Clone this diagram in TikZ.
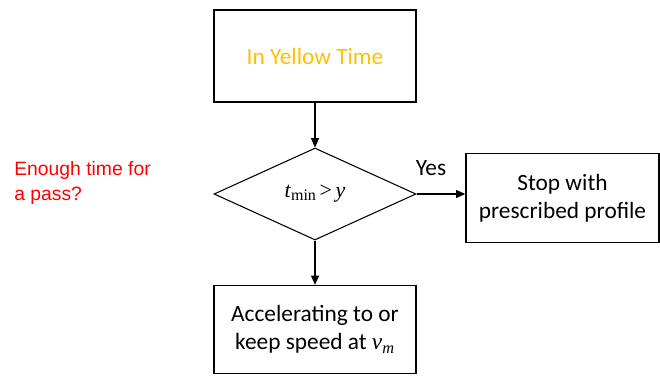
\documentclass[tikz,border=0pt]{standalone}
\usepackage{fontspec}
\setmainfont{Carlito}
\newfontfamily\arialfont{Liberation Sans}
\newfontfamily\timesfont{Liberation Serif}
\usetikzlibrary{shapes.geometric,arrows.meta}
\definecolor{yellowtxt}{RGB}{255,192,0}
\definecolor{redtxt}{RGB}{255,0,0}
\begin{document}
\begin{tikzpicture}[x=0.75pt,y=-0.75pt,
  box/.style={draw=black,line width=1pt,minimum width=151.5pt,align=center,
    font=\fontsize{17.5}{21}\selectfont,inner sep=0pt},
  dia/.style={draw=black,line width=0.8pt,diamond,aspect=2.2,minimum width=151.5pt,minimum height=69pt,inner sep=0pt},
  arr/.style={line width=0.9pt,-{Triangle[length=7pt,width=6pt]}}]
\useasboundingbox (0,0) rectangle (660,383);
\node[box,minimum height=69pt] (yt) at (315,56) {\textcolor{yellowtxt}{In Yellow Time}};
\node[dia] (d) at (315,194) {};
\node at (315,194) {\timesfont\fontsize{16.5}{19}\selectfont\textit{t}\raisebox{-0.25ex}{\fontsize{12}{14}\selectfont min}\,>\,\textit{y}};
\node[box,minimum width=144.75pt,minimum height=67pt] (stop) at (562.5,198) {Stop with\\prescribed profile};
\node[box,minimum height=66pt] (acc) at (315,329.5) {Accelerating to or\\keep speed at \textit{\timesfont v}\textsubscript{\textit{\timesfont m}}};
\node[anchor=north west,align=left,text=redtxt,font=\arialfont\fontsize{14.5}{19}\selectfont,inner sep=0pt] (q) at (14,161) {Enough time for\\a pass?};
\node[font=\fontsize{17.5}{20}\selectfont,inner sep=0pt] (yes) at (431,168) {Yes};
\draw[arr] (yt.south) -- (d.north);
\draw[arr] (d.east) -- (stop.west |- d.east);
\draw[arr] (d.south) -- (acc.north);
\end{tikzpicture}
\end{document}
